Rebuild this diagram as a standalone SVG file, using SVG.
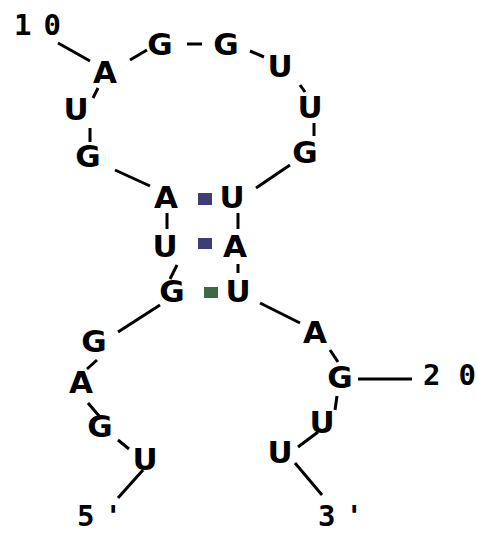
<svg xmlns="http://www.w3.org/2000/svg" width="477" height="534" viewBox="0 0 477 534">
<style>
.n text{font-family:"DejaVu Sans",sans-serif;font-weight:bold;font-size:31px;fill:#000;text-anchor:middle}
.lbl{font-family:"DejaVu Sans Mono",monospace;font-weight:bold;font-size:29px;fill:#000}
#connectors line{stroke:#000;stroke-width:3}
</style>
<rect width="477" height="534" fill="#fff"/>
<g id="connectors">
<line x1="58" y1="43" x2="90" y2="61"/>
<line x1="130" y1="60" x2="147" y2="50"/>
<line x1="187" y1="44" x2="202" y2="44"/>
<line x1="250" y1="51" x2="264" y2="57"/>
<line x1="300" y1="85" x2="305" y2="92"/>
<line x1="314" y1="123" x2="314" y2="136"/>
<line x1="290" y1="165" x2="256" y2="188"/>
<line x1="98" y1="88" x2="93" y2="98"/>
<line x1="90" y1="128" x2="90" y2="142"/>
<line x1="115" y1="170" x2="150" y2="186"/>
<line x1="167" y1="213" x2="167" y2="229"/>
<line x1="177" y1="265" x2="170" y2="279"/>
<line x1="238" y1="213" x2="238" y2="229"/>
<line x1="238" y1="264" x2="238" y2="273"/>
<line x1="160" y1="305" x2="118" y2="332"/>
<line x1="260" y1="303" x2="300" y2="323"/>
<line x1="97" y1="360" x2="87" y2="369"/>
<line x1="88" y1="403" x2="100" y2="417"/>
<line x1="118" y1="440" x2="129" y2="449"/>
<line x1="143" y1="470" x2="118" y2="498"/>
<line x1="330" y1="350" x2="338" y2="362"/>
<line x1="337" y1="396" x2="335" y2="410"/>
<line x1="318" y1="432" x2="298" y2="447"/>
<line x1="295" y1="463" x2="322" y2="495"/>
<line x1="358" y1="379" x2="412" y2="379"/>
</g>
<g id="pairs">
<rect x="198" y="193" width="14" height="12" fill="#3f3d78"/>
<rect x="198" y="238" width="14" height="11" fill="#3f3d78"/>
<rect x="204" y="287" width="14" height="11" fill="#3d6a45"/>
</g>
<g id="n1" class="n"><text x="145" y="470">U</text></g>
<g id="n2" class="n"><text x="100" y="437">G</text></g>
<g id="n3" class="n"><text x="81" y="393">A</text></g>
<g id="n4" class="n"><text x="94" y="352">G</text></g>
<g id="n5" class="n"><text x="172" y="302">G</text></g>
<g id="n6" class="n"><text x="165" y="257">U</text></g>
<g id="n7" class="n"><text x="166" y="208">A</text></g>
<g id="n8" class="n"><text x="88" y="167">G</text></g>
<g id="n9" class="n"><text x="76" y="120">U</text></g>
<g id="n10" class="n"><text x="105" y="83">A</text></g>
<g id="n11" class="n"><text x="160" y="55">G</text></g>
<g id="n12" class="n"><text x="226" y="55">G</text></g>
<g id="n13" class="n"><text x="280" y="77">U</text></g>
<g id="n14" class="n"><text x="310" y="118">U</text></g>
<g id="n15" class="n"><text x="305" y="163">G</text></g>
<g id="n16" class="n"><text x="232" y="208">U</text></g>
<g id="n17" class="n"><text x="235" y="257">A</text></g>
<g id="n18" class="n"><text x="238" y="302">U</text></g>
<g id="n19" class="n"><text x="315" y="343">A</text></g>
<g id="n20" class="n"><text x="340" y="388">G</text></g>
<g id="n21" class="n"><text x="322" y="433">U</text></g>
<g id="n22" class="n"><text x="280" y="463">U</text></g>
<g id="labels">
<text class="lbl" x="14" y="35">1<tspan dx="12">0</tspan></text>
<text class="lbl" x="423" y="385">2<tspan dx="18">0</tspan></text>
<text class="lbl" x="77" y="526">5<tspan dx="10">'</tspan></text>
<text class="lbl" x="318" y="526">3<tspan dx="10">'</tspan></text>
</g>
</svg>
